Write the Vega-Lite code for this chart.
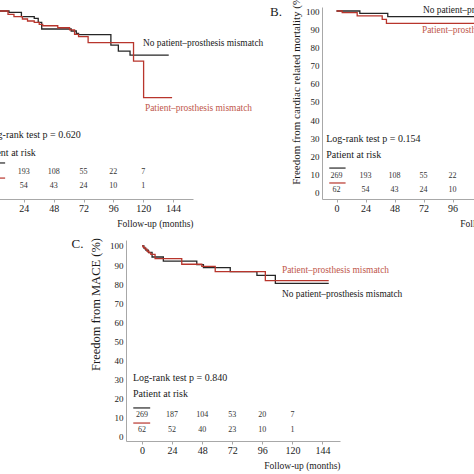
{
  "$schema": "https://vega.github.io/schema/vega-lite/v6.json",
  "autosize": {"type": "none"},
  "padding": {"left": -21, "top": 7, "right": 495, "bottom": 467},
  "background": "white",
  "config": {
    "view": {"stroke": null},
    "font": "Liberation Serif",
    "text": {"font": "Liberation Serif"},
    "axis": {"grid": false, "domainColor": "#a8a8a8", "tickColor": "#a8a8a8", "labelColor": "#1a1a1a", "titleColor": "#1a1a1a", "titleFontWeight": "normal", "labelFont": "Liberation Serif", "titleFont": "Liberation Serif", "labelOverlap": false},
    "axisX": {"labelFontSize": 10, "tickSize": 3, "labelPadding": 1, "titleAnchor": "end", "titleFontSize": 9.5, "titlePadding": 5, "labelFlush": false},
    "axisY": {"ticks": false, "labelPadding": 3, "labelFontSize": 9}
  },
  "datasets": {
    "curves": [
      {"panel": "A", "group": "No PPM", "month": 0, "surv": 100},
      {"panel": "A", "group": "No PPM", "month": 12.1, "surv": 99.3},
      {"panel": "A", "group": "No PPM", "month": 22.1, "surv": 96.9},
      {"panel": "A", "group": "No PPM", "month": 32.4, "surv": 96.0},
      {"panel": "A", "group": "No PPM", "month": 35.6, "surv": 93.8},
      {"panel": "A", "group": "No PPM", "month": 38.4, "surv": 90.1},
      {"panel": "A", "group": "No PPM", "month": 62.1, "surv": 89.0},
      {"panel": "A", "group": "No PPM", "month": 66.2, "surv": 87.7},
      {"panel": "A", "group": "No PPM", "month": 68.0, "surv": 87.0},
      {"panel": "A", "group": "No PPM", "month": 94.0, "surv": 81.3},
      {"panel": "A", "group": "No PPM", "month": 100.0, "surv": 78.0},
      {"panel": "A", "group": "No PPM", "month": 109.4, "surv": 75.8},
      {"panel": "A", "group": "No PPM", "month": 140.5, "surv": 75.8},
      {"panel": "A", "group": "PPM", "month": 0, "surv": 100},
      {"panel": "A", "group": "PPM", "month": 11.3, "surv": 98.2},
      {"panel": "A", "group": "PPM", "month": 16.1, "surv": 96.9},
      {"panel": "A", "group": "PPM", "month": 22.9, "surv": 95.6},
      {"panel": "A", "group": "PPM", "month": 27.0, "surv": 94.5},
      {"panel": "A", "group": "PPM", "month": 32.4, "surv": 93.8},
      {"panel": "A", "group": "PPM", "month": 36.4, "surv": 92.7},
      {"panel": "A", "group": "PPM", "month": 39.2, "surv": 91.9},
      {"panel": "A", "group": "PPM", "month": 51.3, "surv": 90.8},
      {"panel": "A", "group": "PPM", "month": 60.8, "surv": 89.6},
      {"panel": "A", "group": "PPM", "month": 64.8, "surv": 87.2},
      {"panel": "A", "group": "PPM", "month": 68.0, "surv": 85.9},
      {"panel": "A", "group": "PPM", "month": 75.7, "surv": 82.6},
      {"panel": "A", "group": "PPM", "month": 112.2, "surv": 72.5},
      {"panel": "A", "group": "PPM", "month": 120.3, "surv": 52.4},
      {"panel": "A", "group": "PPM", "month": 143.2, "surv": 52.4},
      {"panel": "B", "group": "No PPM", "month": 0, "surv": 100},
      {"panel": "B", "group": "No PPM", "month": 19.3, "surv": 98.7},
      {"panel": "B", "group": "No PPM", "month": 42.4, "surv": 96.9},
      {"panel": "B", "group": "No PPM", "month": 150, "surv": 96.9},
      {"panel": "B", "group": "PPM", "month": 0, "surv": 100},
      {"panel": "B", "group": "PPM", "month": 4.7, "surv": 99.1},
      {"panel": "B", "group": "PPM", "month": 17.1, "surv": 97.3},
      {"panel": "B", "group": "PPM", "month": 37.8, "surv": 95.4},
      {"panel": "B", "group": "PPM", "month": 41.3, "surv": 93.2},
      {"panel": "B", "group": "PPM", "month": 150, "surv": 93.2},
      {"panel": "C", "group": "No PPM", "month": 0, "surv": 100},
      {"panel": "C", "group": "No PPM", "month": 1.5, "surv": 98.8},
      {"panel": "C", "group": "No PPM", "month": 3, "surv": 97.8},
      {"panel": "C", "group": "No PPM", "month": 5, "surv": 96.6},
      {"panel": "C", "group": "No PPM", "month": 8, "surv": 94.2},
      {"panel": "C", "group": "No PPM", "month": 17, "surv": 92.0},
      {"panel": "C", "group": "No PPM", "month": 43.7, "surv": 90.2},
      {"panel": "C", "group": "No PPM", "month": 49, "surv": 88.6},
      {"panel": "C", "group": "No PPM", "month": 70.4, "surv": 86.5},
      {"panel": "C", "group": "No PPM", "month": 91.7, "surv": 84.6},
      {"panel": "C", "group": "No PPM", "month": 106.4, "surv": 80.4},
      {"panel": "C", "group": "No PPM", "month": 149, "surv": 80.4},
      {"panel": "C", "group": "PPM", "month": 0, "surv": 100},
      {"panel": "C", "group": "PPM", "month": 1, "surv": 99.2},
      {"panel": "C", "group": "PPM", "month": 2.4, "surv": 98.3},
      {"panel": "C", "group": "PPM", "month": 4, "surv": 97.2},
      {"panel": "C", "group": "PPM", "month": 5.5, "surv": 96.4},
      {"panel": "C", "group": "PPM", "month": 7, "surv": 95.6},
      {"panel": "C", "group": "PPM", "month": 10.4, "surv": 93.3},
      {"panel": "C", "group": "PPM", "month": 31.7, "surv": 90.4},
      {"panel": "C", "group": "PPM", "month": 47.7, "surv": 89.3},
      {"panel": "C", "group": "PPM", "month": 58.4, "surv": 86.5},
      {"panel": "C", "group": "PPM", "month": 98.4, "surv": 81.8},
      {"panel": "C", "group": "PPM", "month": 149, "surv": 81.8}
    ],
    "risk": [
      {"panel": "A", "group": "No PPM", "month": 0, "n": 269},
      {"panel": "A", "group": "No PPM", "month": 24, "n": 193},
      {"panel": "A", "group": "No PPM", "month": 48, "n": 108},
      {"panel": "A", "group": "No PPM", "month": 72, "n": 55},
      {"panel": "A", "group": "No PPM", "month": 96, "n": 22},
      {"panel": "A", "group": "No PPM", "month": 120, "n": 7},
      {"panel": "A", "group": "PPM", "month": 0, "n": 62},
      {"panel": "A", "group": "PPM", "month": 24, "n": 54},
      {"panel": "A", "group": "PPM", "month": 48, "n": 43},
      {"panel": "A", "group": "PPM", "month": 72, "n": 24},
      {"panel": "A", "group": "PPM", "month": 96, "n": 10},
      {"panel": "A", "group": "PPM", "month": 120, "n": 1},
      {"panel": "B", "group": "No PPM", "month": 0, "n": 269},
      {"panel": "B", "group": "No PPM", "month": 24, "n": 193},
      {"panel": "B", "group": "No PPM", "month": 48, "n": 108},
      {"panel": "B", "group": "No PPM", "month": 72, "n": 55},
      {"panel": "B", "group": "No PPM", "month": 96, "n": 22},
      {"panel": "B", "group": "No PPM", "month": 120, "n": 7},
      {"panel": "B", "group": "PPM", "month": 0, "n": 62},
      {"panel": "B", "group": "PPM", "month": 24, "n": 54},
      {"panel": "B", "group": "PPM", "month": 48, "n": 43},
      {"panel": "B", "group": "PPM", "month": 72, "n": 24},
      {"panel": "B", "group": "PPM", "month": 96, "n": 10},
      {"panel": "B", "group": "PPM", "month": 120, "n": 1},
      {"panel": "C", "group": "No PPM", "month": 0, "n": 269},
      {"panel": "C", "group": "No PPM", "month": 24, "n": 187},
      {"panel": "C", "group": "No PPM", "month": 48, "n": 104},
      {"panel": "C", "group": "No PPM", "month": 72, "n": 53},
      {"panel": "C", "group": "No PPM", "month": 96, "n": 20},
      {"panel": "C", "group": "No PPM", "month": 120, "n": 7},
      {"panel": "C", "group": "PPM", "month": 0, "n": 62},
      {"panel": "C", "group": "PPM", "month": 24, "n": 52},
      {"panel": "C", "group": "PPM", "month": 48, "n": 40},
      {"panel": "C", "group": "PPM", "month": 72, "n": 23},
      {"panel": "C", "group": "PPM", "month": 96, "n": 10},
      {"panel": "C", "group": "PPM", "month": 120, "n": 1}
    ]
  },
  "spacing": 9,
  "vconcat": [
    {
      "spacing": 0,
      "bounds": "flush",
      "hconcat": [
        {
          "width": 214, "height": 192,
          "layer": [
            {"data": {"name": "curves"}, "transform": [{"filter": "datum.panel === 'A'"}],
             "mark": {"type": "line", "interpolate": "step-after", "strokeWidth": 1.3},
             "encoding": {
               "x": {"field": "month", "type": "quantitative", "scale": {"domain": [-12, 160], "nice": false, "zero": false}, "axis": {"values": [0, 24, 48, 72, 96, 120, 144], "tickCount": 20, "labelOverlap": false, "title": "Follow-up (months)"}},
               "y": {"field": "surv", "type": "quantitative", "scale": {"domain": [-3.3, 102.2], "nice": false, "zero": false}, "axis": null},
               "color": {"field": "group", "type": "nominal", "scale": {"domain": ["No PPM", "PPM"], "range": ["#262626", "#b8352c"]}, "legend": null}
             }},
            {"data": {"name": "risk"}, "transform": [{"filter": "datum.panel === 'A' && datum.group === 'No PPM'"}],
             "mark": {"type": "text", "fontSize": 8, "fill": "#333333", "font": "Liberation Serif"},
             "encoding": {"x": {"field": "month", "type": "quantitative", "title": "Follow-up (months)"}, "y": {"datum": 11.5, "axis": null}, "text": {"field": "n"}}},
            {"data": {"name": "risk"}, "transform": [{"filter": "datum.panel === 'A' && datum.group === 'PPM'"}],
             "mark": {"type": "text", "fontSize": 8, "fill": "#333333", "font": "Liberation Serif"},
             "encoding": {"x": {"field": "month", "type": "quantitative", "title": "Follow-up (months)"}, "y": {"datum": 3.8, "axis": null}, "text": {"field": "n"}}},
            {"data": {"values": [{}]}, "mark": {"type": "rule", "color": "#262626", "strokeWidth": 1.2},
             "encoding": {"x": {"datum": -5}, "x2": {"datum": 9}, "y": {"datum": 16.5, "axis": null}}},
            {"data": {"values": [{}]}, "mark": {"type": "rule", "color": "#b8352c", "strokeWidth": 1.2},
             "encoding": {"x": {"datum": -5}, "x2": {"datum": 9}, "y": {"datum": 8.2, "axis": null}}},
            {"data": {"values": [{}]}, "mark": {"type": "text", "text": "Log-rank test p = 0.620", "align": "left", "fontSize": 10, "fill": "#1a1a1a", "font": "Liberation Serif"},
             "encoding": {"x": {"datum": -6}, "y": {"datum": 31.9, "axis": null}}},
            {"data": {"values": [{}]}, "mark": {"type": "text", "text": "Patient at risk", "align": "left", "fontSize": 10, "fill": "#1a1a1a", "font": "Liberation Serif"},
             "encoding": {"x": {"datum": -10.5}, "y": {"datum": 22, "axis": null}}},
            {"data": {"values": [{}]}, "mark": {"type": "text", "text": "No patient–prosthesis mismatch", "align": "left", "fontSize": 9.4, "fill": "#1a1a1a", "font": "Liberation Serif"},
             "encoding": {"x": {"datum": 119.8}, "y": {"datum": 82.4, "axis": null}}},
            {"data": {"values": [{}]}, "mark": {"type": "text", "text": "Patient–prosthesis mismatch", "align": "left", "fontSize": 9.4, "fill": "#c0574b", "font": "Liberation Serif"},
             "encoding": {"x": {"datum": 121.4}, "y": {"datum": 46.7, "axis": null}}}
          ]
        },
        {"width": 129, "height": 192, "data": {"values": []}, "mark": "point"},
        {
          "width": 214, "height": 192,
          "layer": [
            {"data": {"name": "curves"}, "transform": [{"filter": "datum.panel === 'B'"}],
             "mark": {"type": "line", "interpolate": "step-after", "strokeWidth": 1.3},
             "encoding": {
               "x": {"field": "month", "type": "quantitative", "scale": {"domain": [-12, 165], "nice": false, "zero": false}, "axis": {"values": [0, 24, 48, 72, 96, 120, 144], "tickCount": 20, "labelOverlap": false, "title": "Follow-up (months)"}},
               "y": {"field": "surv", "type": "quantitative", "scale": {"domain": [-3.3, 102.2], "nice": false, "zero": false}, "axis": {"values": [0, 10, 20, 30, 40, 50, 60, 70, 80, 90, 100], "tickCount": 20, "labelOverlap": false, "title": "Freedom from cardiac related mortality (%)", "titleFontSize": 11, "titlePadding": 4.5, "titleY": 81}},
               "color": {"field": "group", "type": "nominal", "scale": {"domain": ["No PPM", "PPM"], "range": ["#262626", "#b8352c"]}, "legend": null}
             }},
            {"data": {"name": "risk"}, "transform": [{"filter": "datum.panel === 'B' && datum.group === 'No PPM'"}],
             "mark": {"type": "text", "fontSize": 8, "fill": "#333333", "font": "Liberation Serif"},
             "encoding": {"x": {"field": "month", "type": "quantitative", "title": "Follow-up (months)"}, "y": {"datum": 9.3}, "text": {"field": "n"}}},
            {"data": {"name": "risk"}, "transform": [{"filter": "datum.panel === 'B' && datum.group === 'PPM'"}],
             "mark": {"type": "text", "fontSize": 8, "fill": "#333333", "font": "Liberation Serif"},
             "encoding": {"x": {"field": "month", "type": "quantitative", "title": "Follow-up (months)"}, "y": {"datum": 1.6}, "text": {"field": "n"}}},
            {"data": {"values": [{}]}, "mark": {"type": "rule", "color": "#262626", "strokeWidth": 1.2},
             "encoding": {"x": {"datum": -6}, "x2": {"datum": 7.5}, "y": {"datum": 13.7}}},
            {"data": {"values": [{}]}, "mark": {"type": "rule", "color": "#b8352c", "strokeWidth": 1.2},
             "encoding": {"x": {"datum": -6}, "x2": {"datum": 7.5}, "y": {"datum": 5.5}}},
            {"data": {"values": [{}]}, "mark": {"type": "text", "text": "Log-rank test p = 0.154", "align": "left", "fontSize": 10, "fill": "#1a1a1a", "font": "Liberation Serif"},
             "encoding": {"x": {"datum": -8.5}, "y": {"datum": 29.7}}},
            {"data": {"values": [{}]}, "mark": {"type": "text", "text": "Patient at risk", "align": "left", "fontSize": 10, "fill": "#1a1a1a", "font": "Liberation Serif"},
             "encoding": {"x": {"datum": -8.5}, "y": {"datum": 20.9}}},
            {"data": {"values": [{}]}, "mark": {"type": "text", "text": "No patient–prosthesis mismatch", "align": "left", "fontSize": 9.4, "fill": "#1a1a1a", "font": "Liberation Serif"},
             "encoding": {"x": {"datum": 71.5}, "y": {"datum": 100.5}}},
            {"data": {"values": [{}]}, "mark": {"type": "text", "text": "Patient–prosthesis mismatch", "align": "left", "fontSize": 9.4, "fill": "#c0574b", "font": "Liberation Serif"},
             "encoding": {"x": {"datum": 70.7}, "y": {"datum": 89.6}}},
            {"data": {"values": [{}]}, "mark": {"type": "text", "text": "B.", "align": "center", "fontSize": 13, "fill": "#1a1a1a", "font": "Liberation Serif"},
             "encoding": {"x": {"datum": -50}, "y": {"datum": 99.5}}}
          ]
        }
      ]
    },
    {
      "spacing": 0,
      "bounds": "flush",
      "hconcat": [
        {"width": 147, "height": 201, "data": {"values": []}, "mark": "point"},
        {
          "width": 214, "height": 201,
          "layer": [
            {"data": {"name": "curves"}, "transform": [{"filter": "datum.panel === 'C'"}],
             "mark": {"type": "line", "interpolate": "step-after", "strokeWidth": 1.3},
             "encoding": {
               "x": {"field": "month", "type": "quantitative", "scale": {"domain": [-12.8, 158], "nice": false, "zero": false}, "axis": {"values": [0, 24, 48, 72, 96, 120, 144], "tickCount": 20, "labelOverlap": false, "title": "Follow-up (months)"}},
               "y": {"field": "surv", "type": "quantitative", "scale": {"domain": [-2.1, 103.1], "nice": false, "zero": false}, "axis": {"values": [0, 10, 20, 30, 40, 50, 60, 70, 80, 90, 100], "tickCount": 20, "labelOverlap": false, "title": "Freedom from MACE (%)", "titleFontSize": 12.5, "titlePadding": 7, "titleY": 64}},
               "color": {"field": "group", "type": "nominal", "scale": {"domain": ["No PPM", "PPM"], "range": ["#262626", "#b8352c"]}, "legend": null}
             }},
            {"data": {"name": "risk"}, "transform": [{"filter": "datum.panel === 'C' && datum.group === 'No PPM'"}],
             "mark": {"type": "text", "fontSize": 8, "fill": "#333333", "font": "Liberation Serif"},
             "encoding": {"x": {"field": "month", "type": "quantitative", "title": "Follow-up (months)"}, "y": {"datum": 11.5}, "text": {"field": "n"}}},
            {"data": {"name": "risk"}, "transform": [{"filter": "datum.panel === 'C' && datum.group === 'PPM'"}],
             "mark": {"type": "text", "fontSize": 8, "fill": "#333333", "font": "Liberation Serif"},
             "encoding": {"x": {"field": "month", "type": "quantitative", "title": "Follow-up (months)"}, "y": {"datum": 3.7}, "text": {"field": "n"}}},
            {"data": {"values": [{}]}, "mark": {"type": "rule", "color": "#262626", "strokeWidth": 1.2},
             "encoding": {"x": {"datum": -7}, "x2": {"datum": 6.5}, "y": {"datum": 15.2}}},
            {"data": {"values": [{}]}, "mark": {"type": "rule", "color": "#b8352c", "strokeWidth": 1.2},
             "encoding": {"x": {"datum": -7}, "x2": {"datum": 6.5}, "y": {"datum": 7.3}}},
            {"data": {"values": [{}]}, "mark": {"type": "text", "text": "Log-rank test p = 0.840", "align": "left", "fontSize": 10, "fill": "#1a1a1a", "font": "Liberation Serif"},
             "encoding": {"x": {"datum": -7.2}, "y": {"datum": 31}}},
            {"data": {"values": [{}]}, "mark": {"type": "text", "text": "Patient at risk", "align": "left", "fontSize": 10, "fill": "#1a1a1a", "font": "Liberation Serif"},
             "encoding": {"x": {"datum": -7.2}, "y": {"datum": 22.5}}},
            {"data": {"values": [{}]}, "mark": {"type": "text", "text": "Patient–prosthesis mismatch", "align": "left", "fontSize": 9.4, "fill": "#c0574b", "font": "Liberation Serif"},
             "encoding": {"x": {"datum": 111.7}, "y": {"datum": 87.4}}},
            {"data": {"values": [{}]}, "mark": {"type": "text", "text": "No patient–prosthesis mismatch", "align": "left", "fontSize": 9.4, "fill": "#1a1a1a", "font": "Liberation Serif"},
             "encoding": {"x": {"datum": 111.7}, "y": {"datum": 74.9}}},
            {"data": {"values": [{}]}, "mark": {"type": "text", "text": "C.", "align": "center", "fontSize": 13, "fill": "#1a1a1a", "font": "Liberation Serif"},
             "encoding": {"x": {"datum": -51.5}, "y": {"datum": 101}}}
          ]
        }
      ]
    }
  ]
}
